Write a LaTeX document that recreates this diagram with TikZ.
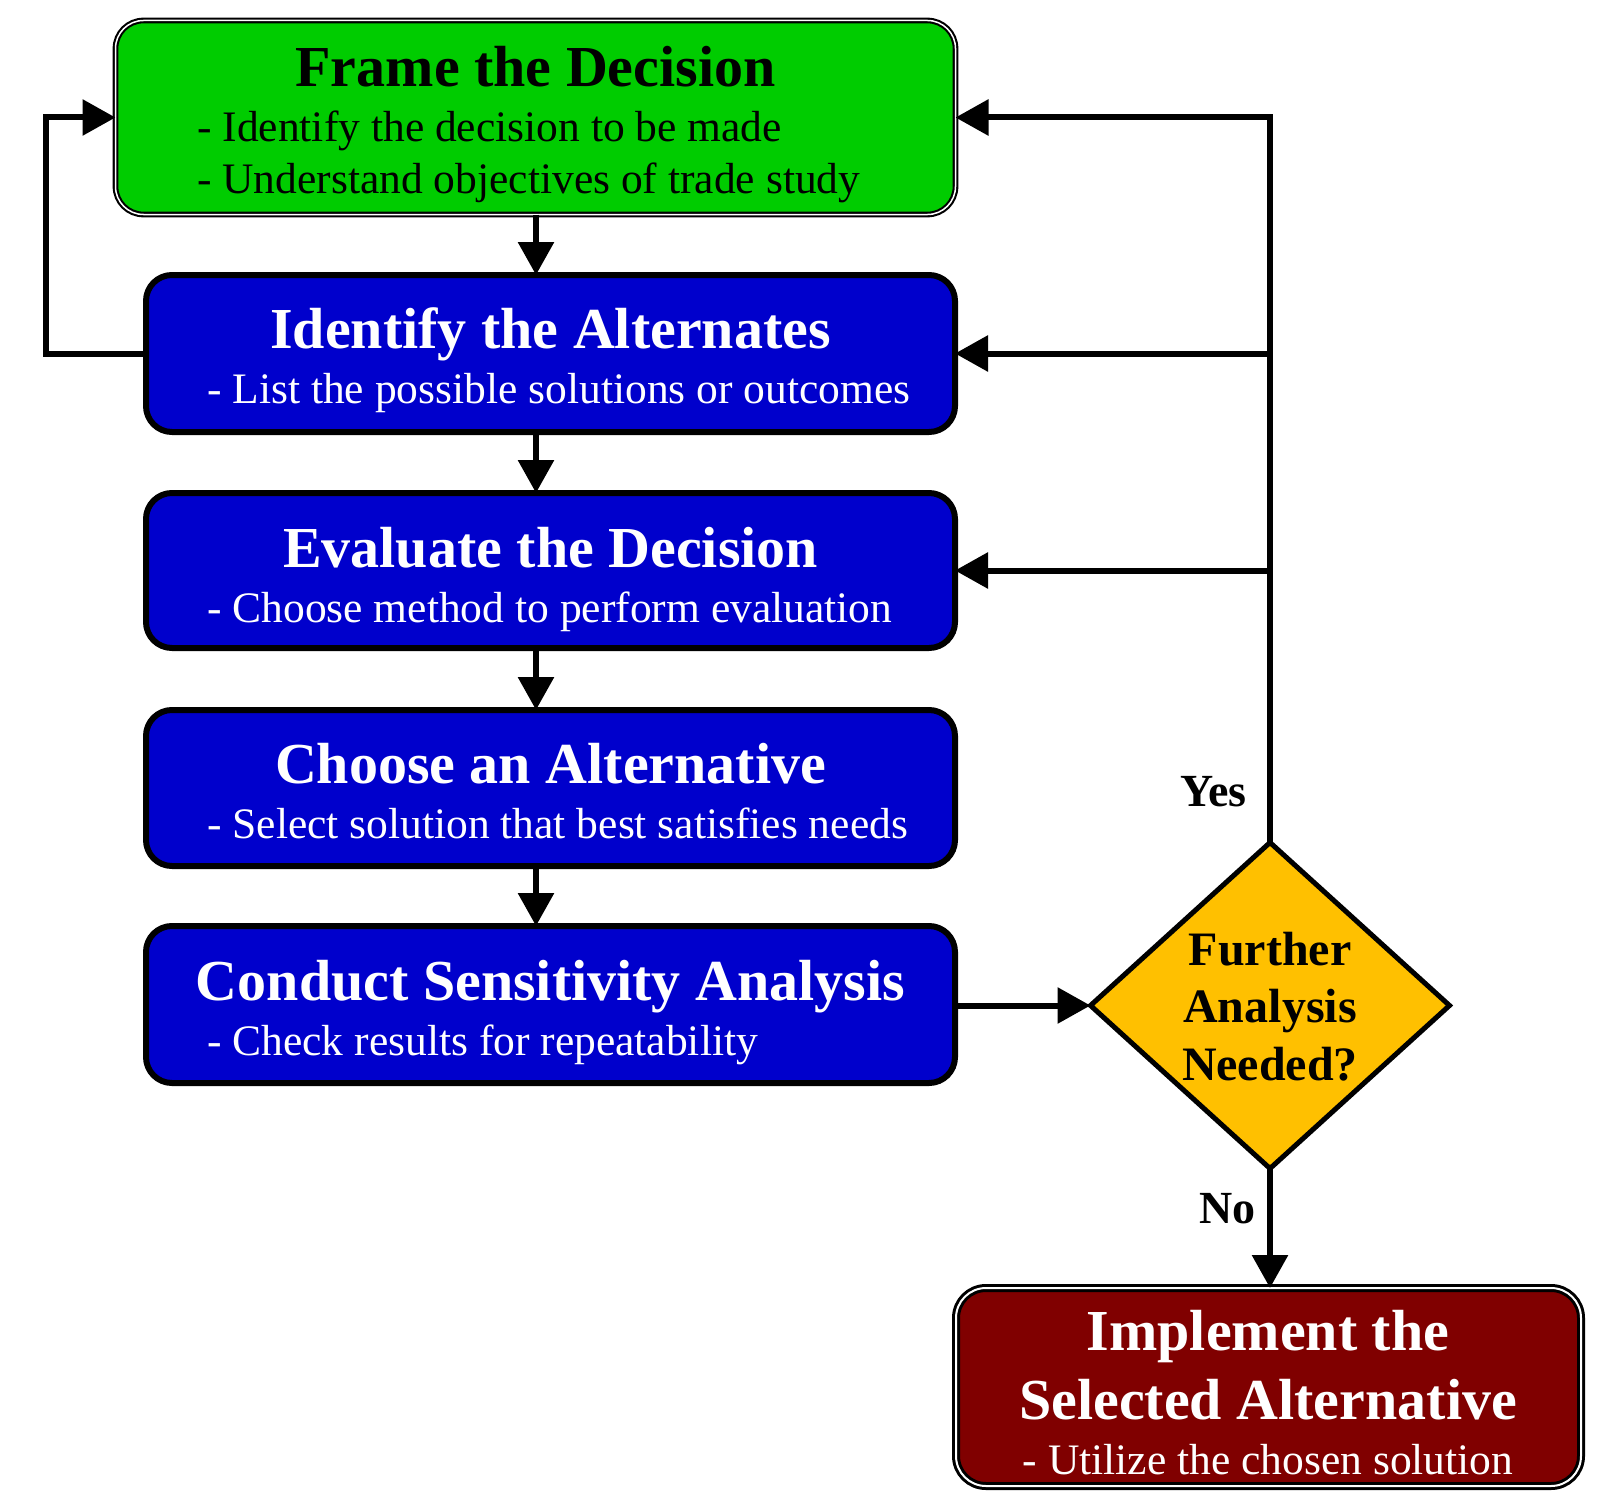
\documentclass[tikz,border=0pt]{standalone}
\usepackage{fontspec}
\setmainfont{Liberation Serif}
\usetikzlibrary{shapes.geometric,arrows.meta}
\definecolor{fgreen}{HTML}{00CC00}
\definecolor{fblue}{HTML}{0000CC}
\definecolor{forange}{HTML}{FFC000}
\definecolor{fred}{HTML}{800000}
\tikzset{
  box/.style={rectangle, inner sep=0pt, outer sep=0pt},
  greenbox/.style={box, rounded corners=28pt, fill=fgreen, draw=black, double=white, line width=2.1pt, double distance=1.5pt},
  bluebox/.style={box, rounded corners=26pt, fill=fblue, draw=black, line width=6pt},
  redbox/.style={box, rounded corners=30pt, fill=fred, draw=black, double=white, line width=3pt, double distance=2pt},
  decbox/.style={diamond, inner sep=0pt, outer sep=0pt, fill=forange, draw=black, line width=5pt},
  ttl/.style={inner sep=0pt, anchor=base, font=\fontsize{58}{60}\selectfont\bfseries},
  sub/.style={inner sep=0pt, anchor=base west, font=\fontsize{43.5}{46}\selectfont},
  dtxt/.style={inner sep=0pt, anchor=base, font=\fontsize{48}{50}\selectfont\bfseries},
  lbl/.style={inner sep=0pt, anchor=base east, font=\fontsize{46}{48}\selectfont\bfseries},
  conn/.style={line width=6pt, -{Triangle[length=33pt,width=35pt]}},
}
\begin{document}
\begin{tikzpicture}[x=1pt,y=-1pt]
\useasboundingbox (0,0) rectangle (1606,1493);

% boxes
\node[greenbox, minimum width=840pt, minimum height=194pt] (g) at (535.5,117.5) {};
\node[bluebox, minimum width=809pt, minimum height=157pt] (b1) at (550.5,353.5) {};
\node[bluebox, minimum width=809pt, minimum height=155pt] (b2) at (550.5,570.5) {};
\node[bluebox, minimum width=809pt, minimum height=156pt] (b3) at (550.5,788) {};
\node[bluebox, minimum width=809pt, minimum height=157pt] (b4) at (550.5,1004.5) {};
\node[decbox, minimum width=359pt, minimum height=326pt] (dec) at (1270,1005.5) {};
\node[redbox, minimum width=625pt, minimum height=198pt] (r) at (1268.5,1387) {};

% texts
\node[ttl] (gt) at (535.5,87) {Frame the Decision};
\node[sub] (gs1) at (197,142) {- Identify the decision to be made};
\node[sub] (gs2) at (197,193) {- Understand objectives of trade study};

\node[ttl, text=white] (b1t) at (550.5,348) {Identify the Alternates};
\node[sub, text=white] (b1s) at (207,403) {- List the possible solutions or outcomes};

\node[ttl, text=white] (b2t) at (550.5,567) {Evaluate the Decision};
\node[sub, text=white] (b2s) at (207,622) {- Choose method to perform evaluation};

\node[ttl, text=white] (b3t) at (550.5,783) {Choose an Alternative};
\node[sub, text=white] (b3s) at (207,838) {- Select solution that best satisfies needs};

\node[ttl, text=white] (b4t) at (550.5,1000) {Conduct Sensitivity Analysis};
\node[sub, text=white] (b4s) at (207,1055) {- Check results for repeatability};

\node[dtxt] (d1) at (1270,965) {Further};
\node[dtxt] (d2) at (1270,1022) {Analysis};
\node[dtxt] (d3) at (1270,1080) {Needed?};

\node[ttl, text=white] (rt1) at (1268,1350) {Implement the};
\node[ttl, text=white] (rt2) at (1268,1419) {Selected Alternative};
\node[sub, text=white, anchor=base] (rs) at (1268,1474) {- Utilize the chosen solution};

\node[lbl] (yes) at (1247,806) {Yes};
\node[lbl] (no) at (1256,1223) {No};

% connectors
\coordinate (vx) at (536,0);
\draw[conn] (g.south -| vx) -- (b1.north -| vx);
\draw[conn] (b1.south -| vx) -- (b2.north -| vx);
\draw[conn] (b2.south -| vx) -- (b3.north -| vx);
\draw[conn] (b3.south -| vx) -- (b4.north -| vx);

\coordinate (lp) at (46,0);
\draw[conn] (b1.west) -- (b1.west -| lp) |- (g.west);

\draw[conn] (dec.north) |- (g.east);
\draw[conn] (dec.north |- b1.east) -- (b1.east);
\draw[conn] (dec.north |- b2.east) -- (b2.east);

\draw[conn] (b4.east |- dec.west) -- (dec.west);
\draw[conn] (dec.south) -- (dec.south |- r.north);
\end{tikzpicture}
\end{document}
